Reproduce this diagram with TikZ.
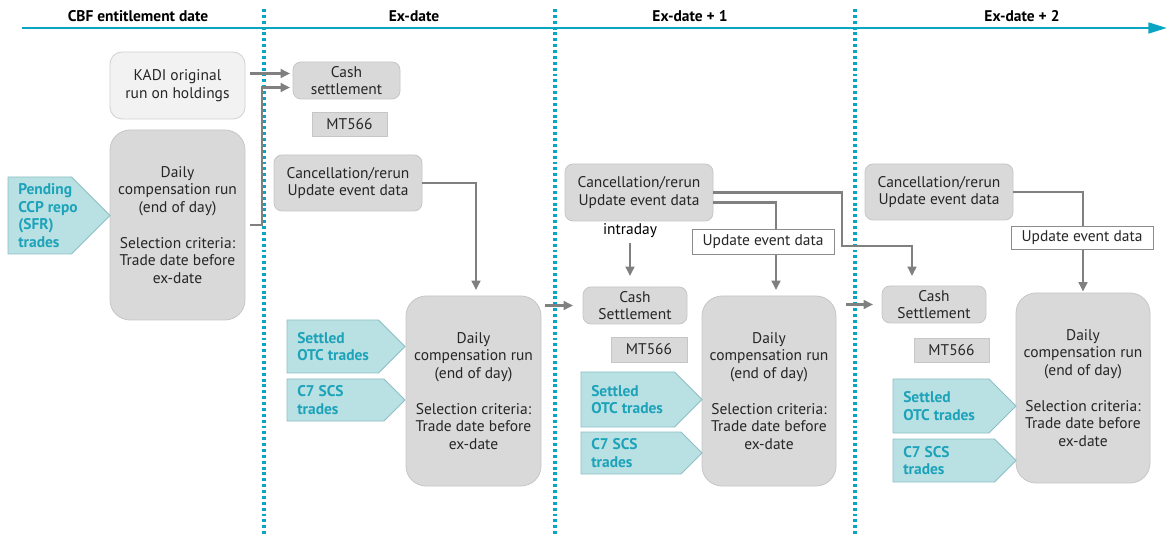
\documentclass[tikz,border=0pt]{standalone}
\usepackage{fontspec}
\setmainfont{PT Sans}
\usetikzlibrary{arrows.meta,calc}
\definecolor{axisc}{HTML}{0AA5C2}
\definecolor{boxfill}{HTML}{D9D9D9}
\definecolor{boxline}{HTML}{C6C6C6}
\definecolor{kadifill}{HTML}{F2F2F2}
\definecolor{kadiline}{HTML}{D0D0D0}
\definecolor{chevfill}{HTML}{B9E0E3}
\definecolor{chevline}{HTML}{8DBFC4}
\definecolor{chevtxt}{HTML}{1DA3B9}
\definecolor{arrc}{HTML}{808080}
\tikzset{
  base/.style={inner sep=0pt, outer sep=0pt, align=center, text=black!85},
  graybox/.style={base, draw=boxline, fill=boxfill, line width=0.6pt, rounded corners=6pt},
  dailybox/.style={base, draw=boxline, fill=boxfill, line width=0.6pt, rounded corners=15pt},
  kadibox/.style={base, draw=kadiline, fill=kadifill, line width=0.6pt, rounded corners=9pt},
  mtbox/.style={base, draw=boxline, fill=boxfill, line width=0.6pt},
  updbox/.style={base, draw=black!45, fill=white, line width=0.6pt},
  chevbox/.style={draw=chevline, fill=chevfill, line width=0.6pt},
  chevtext/.style={inner sep=0pt, align=left, text=chevtxt, font=\fontsize{11.6}{13.3}\selectfont\bfseries},
  hdr/.style={inner sep=0pt, font=\fontsize{11.6}{13}\selectfont\bfseries},
  arr/.style={draw=arrc, line width=2pt, -{Triangle[length=7pt,width=6.5pt]}},
  axisline/.style={draw=axisc, line width=2pt, -{Triangle[length=14pt,width=8pt]}},
  dayline/.style={draw=axisc, line width=2.4pt, dash pattern=on 2.2pt off 2.2pt},
}
\newcommand\bx[7]{\node[#6, minimum width={(#4-#2)*0.75pt}, minimum height={(#5-#3)*0.75pt}] (#1) at ({(#2+#4)/2},{(#3+#5)/2}) {#7};}
\newcommand\chev[6]{%
  \draw[chevbox] (#2,#3) -- ({#4-(#5-#3)/2},#3) -- (#4,{(#3+#5)/2}) -- ({#4-(#5-#3)/2},#5) -- (#2,#5) -- cycle;
  \node[chevtext, anchor=west] (#1) at ({#2+10},{(#3+#5)/2}) {#6};}
\newcommand\dailytext{Daily\\compensation run\\(end of day)\\[13.3pt]Selection criteria:\\Trade date before\\ex-date}
\begin{document}
\begin{tikzpicture}[x=0.75pt,y=-0.75pt, font=\fontsize{11.6}{13.3}\selectfont]
\useasboundingbox (0,0) rectangle (1167,534);
% axis and day separators
\coordinate (axs) at (22,28);
\coordinate (axe) at (1167,28);
\draw[axisline] (axs) -- (axe);
\foreach \xx/\nm in {264/d1,555/d2,855/d3}{
  \coordinate (\nm t) at (\xx,9);
  \coordinate (\nm b) at (\xx,534);
  \draw[dayline] (\nm t) -- (\nm b);
}
\node[hdr] (h0) at (138,16) {CBF entitlement date};
\node[hdr] (h1) at (414,16) {Ex-date};
\node[hdr] (h2) at (690,16) {Ex-date + 1};
\node[hdr] (h3) at (1022,16) {Ex-date + 2};
% column 1
\bx{kadi}{110}{52}{245}{119}{kadibox}{KADI original\\run on holdings}
\bx{daily1}{110}{130}{245}{320}{dailybox}{\dailytext}
\chev{pend}{8}{177}{110}{254}{Pending\\CCP repo\\(SFR)\\trades}
% column 2
\bx{cash1}{293}{62}{400}{99}{graybox}{Cash\\settlement}
\bx{mt1}{312}{112}{387}{136}{mtbox}{MT566}
\bx{canc1}{274}{155}{422}{211}{graybox}{Cancellation/rerun\\Update event data}
\bx{daily2}{406}{296}{541}{486}{dailybox}{\dailytext}
\chev{otc2}{287}{320}{405}{373}{Settled\\OTC trades}
\chev{cs2}{287}{379}{405}{421}{C7 SCS\\trades}
% column 3
\bx{canc2}{565}{164}{713}{221}{graybox}{Cancellation/rerun\\Update event data}
\node[inner sep=2pt] (intra) at (630,231) {intraday};
\bx{cash2}{583}{287}{687}{324}{graybox}{Cash\\Settlement}
\bx{mt2}{611}{337}{687}{362}{mtbox}{MT566}
\bx{daily3}{702}{296}{836}{486}{dailybox}{\dailytext}
\chev{otc3}{581}{372}{702}{427}{Settled\\OTC trades}
\chev{cs3}{581}{432}{702}{474}{C7 SCS\\trades}
% column 4
\bx{canc3}{865}{164}{1013}{220}{graybox}{Cancellation/rerun\\Update event data}
\bx{cash3}{882}{286}{986}{323}{graybox}{Cash\\Settlement}
\bx{mt3}{914}{338}{989}{362}{mtbox}{MT566}
\bx{daily4}{1016}{293}{1150}{483}{dailybox}{\dailytext}
\chev{otc4}{893}{379}{1016}{433}{Settled\\OTC trades}
\chev{cs4}{893}{439}{1016}{482}{C7 SCS\\trades}
% connectors
\coordinate (c1a) at ($(cash1.west)+(-3,-7)$);
\coordinate (c1b) at ($(cash1.west)+(-3,7)$);
\draw[arr] (kadi.east |- c1a) ++(5,0) -- (c1a);
\draw[arr] (daily1.east) ++(5,0) -| ($(c1b)+(-28,0)$) -- (c1b);
\draw[arr, shorten >=4.5pt] (canc1.east) -| ($(daily2.north)+(2.5,0)$);
\draw[arr] (daily2.east |- cash2.west) ++(4,0) -- ($(cash2.west)+(-10,0)$);
\draw[arr] (intra.south) ++(0,2) -- ($(intra.south |- cash2.north)+(0,-11)$);
\draw[arr, shorten >=4.5pt] ($(canc2.east)+(0,10)$) -| ($(daily3.north)+(7,0)$);
\draw[arr] (canc2.east) -- ++(129,0) |- ($(cash3.north)+(-22,-40)$) -- ($(cash3.north)+(-22,-10)$);
\draw[arr] (daily3.east |- cash3.west) ++(10,0) -- ($(cash3.west)+(-9,0)$);
\draw[arr, shorten >=1.1pt] (canc3.east) -| (daily4.north);
% update boxes on top of lines
\bx{upd2}{692}{229}{834}{254}{updbox}{Update event data}
\bx{upd3}{1011}{226}{1153}{249}{updbox}{Update event data}
\end{tikzpicture}
\end{document}
